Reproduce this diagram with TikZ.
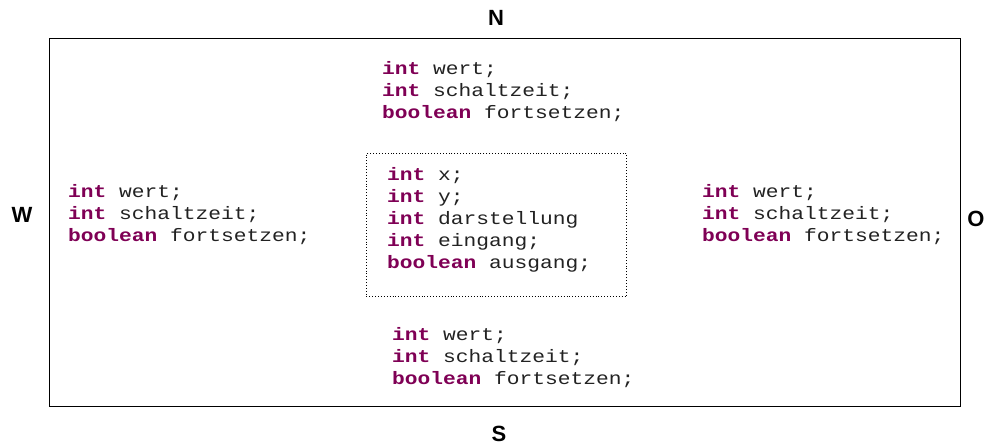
\documentclass[tikz,border=0pt]{standalone}
\usepackage{fontspec}
\newfontfamily\codefont[FakeStretch=1.18]{Liberation Mono}
\newfontfamily\labelfont{Liberation Sans}
\definecolor{kw}{HTML}{7F0055}
\definecolor{idc}{HTML}{222222}
\newcommand{\kw}[1]{\textcolor{kw}{\textbf{#1}}}
\begin{document}
\begin{tikzpicture}[x=1pt,y=-1pt,
  code/.style={font=\codefont\fontsize{18}{22}\selectfont, text=idc, align=left, inner sep=0pt, anchor=west},
  dirlabel/.style={font=\labelfont\bfseries\fontsize{22}{26}\selectfont, inner sep=0pt}]
\useasboundingbox (0,0) rectangle (987,445);
\node[draw, line width=1.4pt, minimum width=911pt, minimum height=368pt, inner sep=0pt, anchor=north west] (outer) at (49,38) {};
\node[draw, dotted, line width=0.9pt, minimum width=260pt, minimum height=143pt, inner sep=0pt, anchor=north west] (inner) at (366,153) {};
\node[code] (top) at (382,92) {\kw{int} wert;\\\kw{int} schaltzeit;\\\kw{boolean} fortsetzen;};
\node[code] (mid) at (387,220) {\kw{int} x;\\\kw{int} y;\\\kw{int} darstellung\\\kw{int} eingang;\\\kw{boolean} ausgang;};
\node[code] (left) at (68,215) {\kw{int} wert;\\\kw{int} schaltzeit;\\\kw{boolean} fortsetzen;};
\node[code] (right) at (702,215) {\kw{int} wert;\\\kw{int} schaltzeit;\\\kw{boolean} fortsetzen;};
\node[code] (bottom) at (392,358) {\kw{int} wert;\\\kw{int} schaltzeit;\\\kw{boolean} fortsetzen;};
\node[dirlabel] (N) at (496,18) {N};
\node[dirlabel] (W) at (22,215) {W};
\node[dirlabel] (O) at (976,219) {O};
\node[dirlabel] (S) at (499,434) {S};
\end{tikzpicture}
\end{document}
